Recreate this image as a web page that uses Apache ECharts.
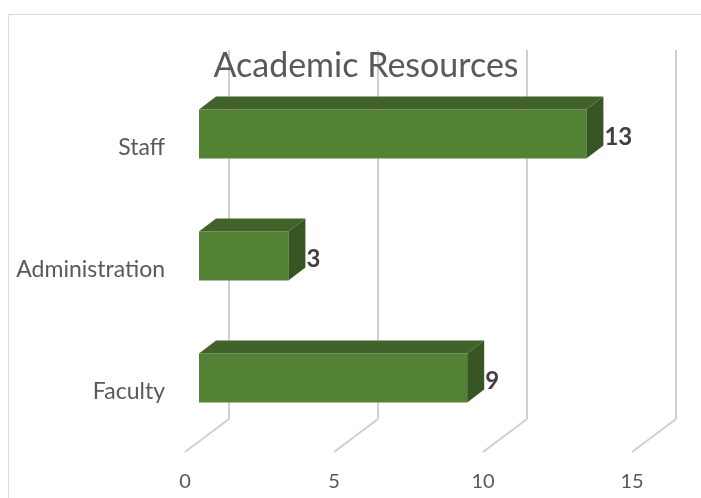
<!DOCTYPE html>
<html>
<head>
<meta charset="utf-8">
<title>Academic Resources</title>
<script src="https://cdn.jsdelivr.net/npm/echarts@6/dist/echarts.min.js"></script>
<style>
  html, body { margin: 0; padding: 0; background: #fff; }
  #chart { width: 701px; height: 498px; }
</style>
</head>
<body>
<div id="chart"></div>
<script>
const categories = ['Faculty', 'Administration', 'Staff']
const values = [9, 3, 13]
const ticks = [0, 5, 10, 15]

const myChart = echarts.init(document.getElementById('chart'))

// depth offset of the 3d bars (px)
const DX = 17
const DY = -13

const option = {
  animation: false,
  backgroundColor: '#fff',
  title: {
    text: 'Academic Resources',
    left: 361,
    textAlign: 'center',
    top: 44,
    textStyle: {
      fontFamily: 'Lato',
      fontSize: 34,
      fontWeight: 'normal',
      color: '#595959'
    }
  },
  graphic: [
    {
      type: 'rect',
      shape: { x: 8.5, y: 14.5, width: 800, height: 600 },
      style: { fill: 'none', stroke: '#d9d9d9', lineWidth: 1 },
      silent: true
    }
  ],
  grid: [
    // front plane of the bars
    { left: 199, width: 447, top: 73, height: 366 },
    // back wall
    { left: 229, width: 447, top: 50, height: 369 },
    // floor front edge
    { left: 185, width: 447, top: 420, height: 32 }
  ],
  xAxis: [
    { gridIndex: 0, type: 'value', min: 0, max: 15, interval: 5, show: false },
    {
      gridIndex: 1, type: 'value', min: 0, max: 15, interval: 5,
      axisLine: { show: false }, axisTick: { show: false }, axisLabel: { show: false },
      splitLine: { show: true, lineStyle: { color: '#d0d0d0', width: 2 } }
    },
    {
      gridIndex: 2, type: 'value', min: 0, max: 15, interval: 5,
      axisLine: { show: false }, axisTick: { show: false },
      splitLine: { show: false },
      axisLabel: { margin: 20, color: '#595959', fontFamily: 'Lato', fontSize: 20 }
    }
  ],
  yAxis: [
    {
      gridIndex: 0, type: 'category', data: categories,
      axisLine: { show: false }, axisTick: { show: false },
      axisLabel: {
        margin: 34, color: '#595959', fontFamily: 'Lato', fontSize: 23,
        verticalAlign: 'top', lineHeight: 27
      }
    },
    { gridIndex: 1, type: 'value', min: 0, max: 1, show: false },
    { gridIndex: 2, type: 'value', min: 0, max: 1, show: false }
  ],
  series: [
    {
      // floor gridlines
      type: 'custom',
      xAxisIndex: 2,
      yAxisIndex: 2,
      silent: true,
      data: ticks.map(t => [t, 0]),
      renderItem: function (params, api) {
        const p = api.coord([api.value(0), 0])
        return {
          type: 'line',
          shape: { x1: p[0], y1: p[1], x2: p[0] + 44, y2: p[1] - 33 },
          style: { stroke: '#d0d0d0', lineWidth: 2 }
        }
      }
    },
    {
      type: 'custom',
      xAxisIndex: 0,
      yAxisIndex: 0,
      data: values.map((v, i) => [v, i]),
      encode: { x: 0, y: 1 },
      renderItem: function (params, api) {
        const start = api.coord([0, api.value(1)])
        const end = api.coord([api.value(0), api.value(1)])
        const h = api.size([0, 1])[1] * 0.4
        const x0 = start[0]
        const x1 = end[0]
        const y0 = start[1] - h / 2
        return {
          type: 'group',
          children: [
            {
              type: 'rect',
              shape: { x: x0, y: y0, width: x1 - x0, height: h },
              style: { fill: '#548235' }
            },
            {
              type: 'polygon',
              shape: { points: [[x0, y0], [x1, y0], [x1 + DX, y0 + DY], [x0 + DX, y0 + DY]] },
              style: { fill: '#41632a' }
            },
            {
              type: 'polygon',
              shape: { points: [[x1, y0], [x1 + DX, y0 + DY], [x1 + DX, y0 + h + DY], [x1, y0 + h]] },
              style: { fill: '#375623' }
            },
            {
              type: 'text',
              style: {
                text: String(api.value(0)),
                x: x1 + DX + 1,
                y: y0 + h / 2 + 3,
                align: 'left',
                verticalAlign: 'middle',
                fill: '#404040',
                font: 'bold 24px Lato'
              }
            }
          ]
        }
      }
    }
  ]
}

myChart.setOption(option)
</script>
</body>
</html>
